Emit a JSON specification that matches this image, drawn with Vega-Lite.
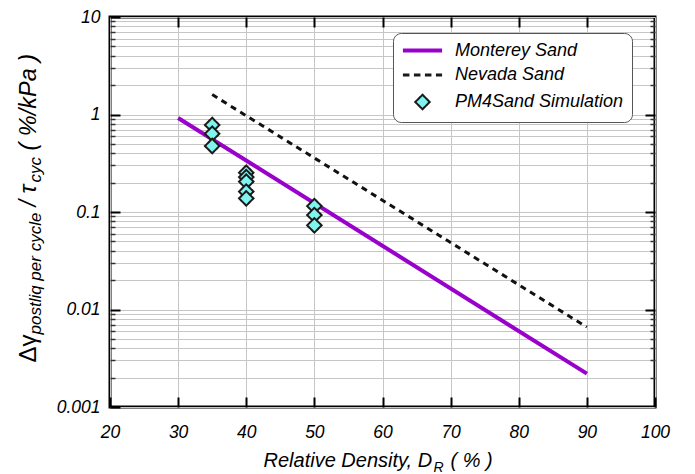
{
  "$schema": "https://vega.github.io/schema/vega-lite/v6.json",
  "width": 545,
  "height": 390,
  "autosize": "none",
  "padding": {"left": 110, "top": 17, "right": 40, "bottom": 67},
  "background": "white",
  "datasets": {
    "curves": [
      {"series": "Monterey Sand", "dr": 30, "rate": 0.92},
      {"series": "Monterey Sand", "dr": 90, "rate": 0.0022},
      {"series": "Nevada Sand", "dr": 35, "rate": 1.6},
      {"series": "Nevada Sand", "dr": 90, "rate": 0.0066}
    ],
    "sims": [
      {"series": "PM4Sand Simulation", "dr": 35, "rate": 0.78},
      {"series": "PM4Sand Simulation", "dr": 35, "rate": 0.635},
      {"series": "PM4Sand Simulation", "dr": 35, "rate": 0.475},
      {"series": "PM4Sand Simulation", "dr": 40, "rate": 0.253},
      {"series": "PM4Sand Simulation", "dr": 40, "rate": 0.228},
      {"series": "PM4Sand Simulation", "dr": 40, "rate": 0.205},
      {"series": "PM4Sand Simulation", "dr": 40, "rate": 0.162},
      {"series": "PM4Sand Simulation", "dr": 40, "rate": 0.138},
      {"series": "PM4Sand Simulation", "dr": 50, "rate": 0.115},
      {"series": "PM4Sand Simulation", "dr": 50, "rate": 0.093},
      {"series": "PM4Sand Simulation", "dr": 50, "rate": 0.073}
    ]
  },
  "config": {
    "view": {"stroke": "#000000", "strokeWidth": 3},
    "axis": {
      "domain": false,
      "labelFont": "Liberation Sans",
      "labelFontStyle": "italic",
      "labelFontSize": 17.5,
      "labelColor": "#000000",
      "labelFlush": false,
      "labelOverlap": false,
      "titleFont": "Liberation Sans",
      "titleFontWeight": "normal",
      "titleColor": "#000000",
      "tickColor": "#000000",
      "gridColor": "#c6c6c6",
      "gridWidth": 1
    }
  },
  "resolve": {"axis": {"x": "independent", "y": "independent"}},
  "layer": [
    {
      "data": {"name": "curves"},
      "transform": [{"filter": "datum.series === 'Monterey Sand'"}],
      "mark": {"type": "line", "color": "#9a00cc", "strokeWidth": 4},
      "encoding": {
        "x": {
          "field": "dr", "type": "quantitative",
          "scale": {"domain": [20, 100], "nice": false, "zero": false},
          "axis": {
            "orient": "bottom",
            "values": [20, 30, 40, 50, 60, 70, 80, 90, 100],
            "format": "d",
            "tickSize": -10, "tickWidth": 2,
            "labelPadding": 26,
            "grid": true,
            "title": "Relative Density, D",
            "titleX": 153, "titleY": 59,
            "titleAlign": "left", "titleBaseline": "alphabetic",
            "titleFontSize": 20, "titleFontStyle": "italic"
          }
        },
        "y": {
          "field": "rate", "type": "quantitative",
          "scale": {"type": "log", "domain": [0.001, 10], "nice": false},
          "axis": {
            "orient": "left",
            "values": [0.001, 0.01, 0.1, 1, 10],
            "format": "~g",
            "tickSize": -10, "tickWidth": 2,
            "labelPadding": 20,
            "grid": true,
            "title": "Δγ",
            "titleX": -75, "titleY": 345, "titleAngle": -90,
            "titleAlign": "left", "titleBaseline": "alphabetic",
            "titleFontSize": 24, "titleFontStyle": "normal"
          }
        }
      }
    },
    {
      "data": {"name": "curves"},
      "transform": [{"filter": "datum.series === 'Nevada Sand'"}],
      "mark": {"type": "line", "color": "#111111", "strokeWidth": 3, "strokeDash": [6, 5]},
      "encoding": {
        "x": {
          "field": "dr", "type": "quantitative",
          "scale": {"domain": [20, 100], "nice": false, "zero": false},
          "axis": {
            "orient": "top",
            "values": [30, 40, 50, 60, 70, 80, 90],
            "labels": false, "grid": false, "title": null,
            "tickSize": -10, "tickWidth": 2
          }
        },
        "y": {
          "field": "rate", "type": "quantitative",
          "scale": {"type": "log", "domain": [0.001, 10], "nice": false},
          "axis": {
            "orient": "right",
            "values": [0.01, 0.1, 1],
            "labels": false, "grid": false, "title": null,
            "tickSize": -10, "tickWidth": 2
          }
        }
      }
    },
    {
      "data": {"name": "sims"},
      "mark": {"type": "point", "filled": true, "size": 210, "opacity": 1},
      "encoding": {
        "x": {
          "field": "dr", "type": "quantitative",
          "scale": {"domain": [20, 100], "nice": false, "zero": false},
          "axis": {
            "orient": "bottom",
            "labels": false, "ticks": false, "grid": false,
            "title": "R",
            "titleX": 323, "titleY": 64,
            "titleAlign": "left", "titleBaseline": "alphabetic",
            "titleFontSize": 14, "titleFontStyle": "italic"
          }
        },
        "y": {
          "field": "rate", "type": "quantitative",
          "scale": {"type": "log", "domain": [0.001, 10], "nice": false},
          "axis": {
            "orient": "left",
            "values": [0.002, 0.003, 0.004, 0.005, 0.006, 0.007, 0.008, 0.009, 0.02, 0.03, 0.04, 0.05, 0.06, 0.07, 0.08, 0.09, 0.2, 0.3, 0.4, 0.5, 0.6, 0.7, 0.8, 0.9, 2, 3, 4, 5, 6, 7, 8, 9],
            "labels": false, "grid": true,
            "tickSize": -5, "tickWidth": 1.5, "tickColor": "#333333",
            "title": "postliq per cycle",
            "titleX": -70, "titleY": 317, "titleAngle": -90,
            "titleAlign": "left", "titleBaseline": "alphabetic",
            "titleFontSize": 17, "titleFontStyle": "italic"
          }
        },
        "fill": {
          "field": "series", "type": "nominal",
          "scale": {"domain": ["Monterey Sand", "Nevada Sand", "PM4Sand Simulation"], "range": ["transparent", "transparent", "#80f4ee"]},
          "legend": {
            "title": null,
            "orient": "none",
            "legendX": 283, "legendY": 16,
            "padding": 8,
            "cornerRadius": 8,
            "strokeColor": "#555555",
            "fillColor": "#ffffff",
            "labelFont": "Liberation Sans",
            "labelFontSize": 18,
            "labelFontStyle": "italic",
            "labelColor": "#000000",
            "labelLimit": 300,
            "symbolOffset": 12,
            "labelOffset": 23,
            "rowPadding": 6,
            "symbolSize": 210
          }
        },
        "shape": {
          "field": "series", "type": "nominal",
          "scale": {"domain": ["Monterey Sand", "Nevada Sand", "PM4Sand Simulation"], "range": ["M-2.7,0H2.7", "M-2.7,0H2.7", "diamond"]},
          "legend": {"title": null}
        },
        "stroke": {
          "field": "series", "type": "nominal",
          "scale": {"domain": ["Monterey Sand", "Nevada Sand", "PM4Sand Simulation"], "range": ["#9a00cc", "#1a1a1a", "#1a1a1a"]},
          "legend": {"title": null}
        },
        "strokeDash": {
          "field": "series", "type": "nominal",
          "scale": {"domain": ["Monterey Sand", "Nevada Sand", "PM4Sand Simulation"], "range": [[1, 0], [6.5, 4.5], [1, 0]]},
          "legend": {"title": null}
        },
        "strokeWidth": {
          "field": "series", "type": "nominal",
          "scale": {"type": "ordinal", "domain": ["Monterey Sand", "Nevada Sand", "PM4Sand Simulation"], "range": [4, 3, 2]},
          "legend": {"title": null}
        }
      }
    },
    {
      "data": {"values": []},
      "mark": {"type": "point", "opacity": 0},
      "encoding": {
        "x": {
          "field": "dr", "type": "quantitative",
          "scale": {"domain": [20, 100], "nice": false, "zero": false},
          "axis": {
            "orient": "bottom",
            "labels": false, "ticks": false, "grid": false,
            "title": "( % )",
            "titleX": 340, "titleY": 59,
            "titleAlign": "left", "titleBaseline": "alphabetic",
            "titleFontSize": 20, "titleFontStyle": "italic"
          }
        },
        "y": {
          "field": "rate", "type": "quantitative",
          "scale": {"type": "log", "domain": [0.001, 10], "nice": false},
          "axis": {
            "orient": "right",
            "values": [0.002, 0.003, 0.004, 0.005, 0.006, 0.007, 0.008, 0.009, 0.02, 0.03, 0.04, 0.05, 0.06, 0.07, 0.08, 0.09, 0.2, 0.3, 0.4, 0.5, 0.6, 0.7, 0.8, 0.9, 2, 3, 4, 5, 6, 7, 8, 9],
            "labels": false, "grid": false, "title": null,
            "tickSize": -5, "tickWidth": 1.5, "tickColor": "#333333"
          }
        }
      }
    },
    {
      "data": {"values": []},
      "mark": {"type": "point", "opacity": 0},
      "encoding": {
        "y": {
          "field": "rate", "type": "quantitative",
          "scale": {"type": "log", "domain": [0.001, 10], "nice": false},
          "axis": {
            "orient": "left",
            "labels": false, "ticks": false, "grid": false,
            "title": "/ τ",
            "titleX": -75, "titleY": 189, "titleAngle": -90,
            "titleAlign": "left", "titleBaseline": "alphabetic",
            "titleFontSize": 23.5, "titleFontStyle": "italic"
          }
        }
      }
    },
    {
      "data": {"values": []},
      "mark": {"type": "point", "opacity": 0},
      "encoding": {
        "y": {
          "field": "rate", "type": "quantitative",
          "scale": {"type": "log", "domain": [0.001, 10], "nice": false},
          "axis": {
            "orient": "left",
            "labels": false, "ticks": false, "grid": false,
            "title": "cyc",
            "titleX": -70, "titleY": 165, "titleAngle": -90,
            "titleAlign": "left", "titleBaseline": "alphabetic",
            "titleFontSize": 17, "titleFontStyle": "italic"
          }
        }
      }
    },
    {
      "data": {"values": []},
      "mark": {"type": "point", "opacity": 0},
      "encoding": {
        "y": {
          "field": "rate", "type": "quantitative",
          "scale": {"type": "log", "domain": [0.001, 10], "nice": false},
          "axis": {
            "orient": "left",
            "labels": false, "ticks": false, "grid": false,
            "title": "( %/kPa )",
            "titleX": -75, "titleY": 133, "titleAngle": -90,
            "titleAlign": "left", "titleBaseline": "alphabetic",
            "titleFontSize": 23.5, "titleFontStyle": "italic"
          }
        }
      }
    }
  ]
}
